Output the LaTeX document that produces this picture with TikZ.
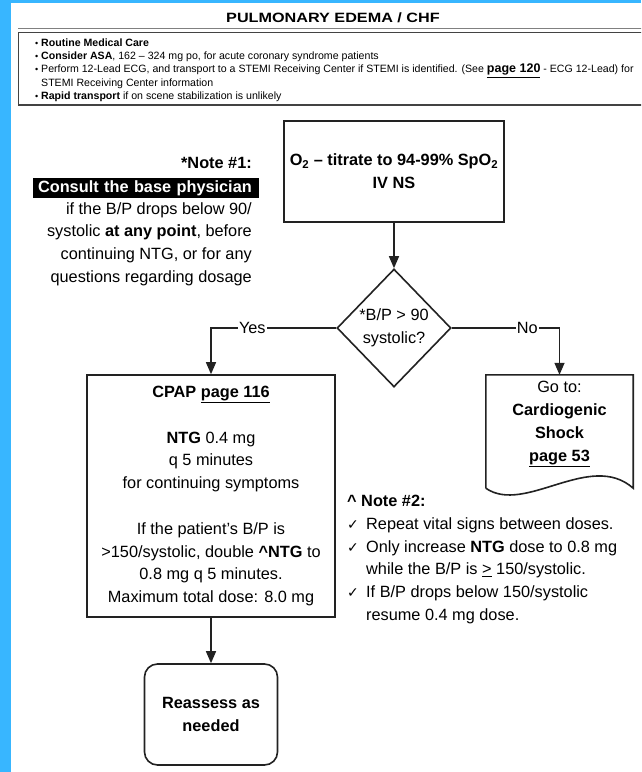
\documentclass[tikz,border=0pt]{standalone}
\usepackage{fontspec}
\usepackage{graphicx}
\setmainfont{Liberation Sans}
\newfontfamily\titlefont[FakeStretch=1.2]{Liberation Sans}
\newfontfamily\tickfont{DejaVu Sans}
\usetikzlibrary{shapes.geometric,arrows.meta}
\definecolor{framecol}{RGB}{56,182,255}
\definecolor{ink}{RGB}{34,34,34}
\newcommand{\bodysize}{\fontsize{16.3pt}{22.8pt}\selectfont}
\newcommand{\itemdot}{\makebox[6pt][l]{\scalebox{0.85}{\textbullet}}}
\newcommand{\notecheck}{\makebox[19pt][l]{\tickfont\fontsize{14pt}{14pt}\selectfont ✓}}

\begin{document}
\begin{tikzpicture}[x=1pt,y=-1pt,
  flow/.style={draw=ink, line width=1.6pt},
  stepbox/.style={flow, rectangle, align=center, inner sep=0pt, font=\bodysize},
  arr/.style={draw=ink, line width=1.4pt, -{Triangle[length=12pt,width=10pt]}},
  lbl/.style={fill=white, inner sep=1pt, font=\bodysize}]
\clip (0,0) rectangle (641,772);
\fill[white] (0,0) rectangle (641,772);
\fill[framecol] (0,0) rectangle (11,772);
\fill[framecol] (0,0) rectangle (641,3);

\node[font=\titlefont\bfseries\fontsize{13.5pt}{14pt}\selectfont] (title) at (333,18) {PULMONARY EDEMA / CHF};
\draw[gray, line width=0.8pt] (18,28.5) -- (645,28.5);
\draw[ink!85, line width=1.5pt] (18.5,32.5) rectangle (650,105);
\node[anchor=north west, align=left, inner sep=0pt, font=\fontsize{10.6pt}{12pt}\selectfont] (care) at (35,39) {%
\itemdot\textbf{Routine Medical Care}\\[1pt]
\itemdot\textbf{Consider ASA}, 162 – 324 mg po, for acute coronary syndrome patients\\[1pt]
\itemdot Perform 12-Lead ECG, and transport to a STEMI Receiving Center if STEMI is identified. (See {\fontsize{12.5pt}{12pt}\selectfont\textbf{\underline{page 120}}} - ECG 12-Lead) for\\
\hspace*{6pt}STEMI Receiving Center information\\[1pt]
\itemdot\textbf{Rapid transport} if on scene stabilization is unlikely};

\node[stepbox, minimum width=220pt, minimum height=101pt, font=\bodysize\bfseries] (o2) at (394,171.5)
  {O\textsubscript{2} – titrate to 94-99\% SpO\textsubscript{2}\\IV NS};
\node[flow, diamond, aspect=1, minimum width=114pt, minimum height=118pt, inner sep=0pt,
  align=center, font=\bodysize] (bp) at (394,328) {*B/P > 90\\systolic?};
\node[stepbox, minimum width=248pt, minimum height=242pt] (cpap) at (211,496)
  {\textbf{CPAP \underline{page 116}}\\[22.8pt]
   \textbf{NTG} 0.4 mg\\q 5 minutes\\for continuing symptoms\\[22.8pt]
   If the patient's B/P is\\>150/systolic, double \textbf{\textasciicircum NTG} to\\
   0.8 mg q 5 minutes.\\Maximum total dose: 8.0 mg};
\node[minimum width=147pt, minimum height=98pt, inner sep=0pt, align=center, font=\bodysize] (shock) at (559.5,424)
  {Go to:\\\textbf{Cardiogenic}\\\textbf{Shock}\\\textbf{\underline{page 53}}};
\draw[flow] ([yshift=-15pt]shock.south west) -- (shock.north west) -- (shock.north east)
  -- ([yshift=-15pt]shock.south east) .. controls +(-43,-38) and +(39,27) .. ([yshift=-15pt]shock.south west);
\node[stepbox, rounded corners=13pt, minimum width=133pt, minimum height=101pt, font=\bodysize\bfseries] (reassess) at (211,714.5)
  {Reassess as\\needed};

\draw[arr] (o2) -- (bp);
\draw[arr] (bp.west) -- node[lbl, pos=0.67] (yes) {Yes} (bp.west -| cpap.north) -- (cpap.north);
\draw[arr] (bp.east) -- node[lbl, pos=0.70] (no) {No} (bp.east -| shock.north) -- (shock.north);
\draw[arr] (cpap) -- (reassess);

\node[anchor=east, inner sep=0pt, font=\bodysize\bfseries] (note1) at (252,163) {*Note \#1:};
\node[fill=black, text=white, anchor=east, text width=226pt, align=right, inner xsep=0pt, inner ysep=0pt,
  minimum height=20pt, font=\bodysize\bfseries] (consult) at (259,188) {Consult the base physician\hspace*{7pt}};
\node[anchor=north east, inner sep=0pt, align=right, font=\bodysize] (note1txt) at (252,202)
  {if the B/P drops below 90/\\systolic \textbf{at any point}, before\\continuing NTG, or for any\\questions regarding dosage};

\node[anchor=north west, inner sep=0pt, align=left, font=\bodysize] (note2) at (347,495)
  {\textbf{\textasciicircum{} Note \#2:}\\
   \notecheck Repeat vital signs between doses.\\
   \notecheck Only increase \textbf{NTG} dose to 0.8 mg\\
   \hspace*{19pt}while the B/P is \underline{>} 150/systolic.\\
   \notecheck If B/P drops below 150/systolic\\
   \hspace*{19pt}resume 0.4 mg dose.};
\end{tikzpicture}
\end{document}
